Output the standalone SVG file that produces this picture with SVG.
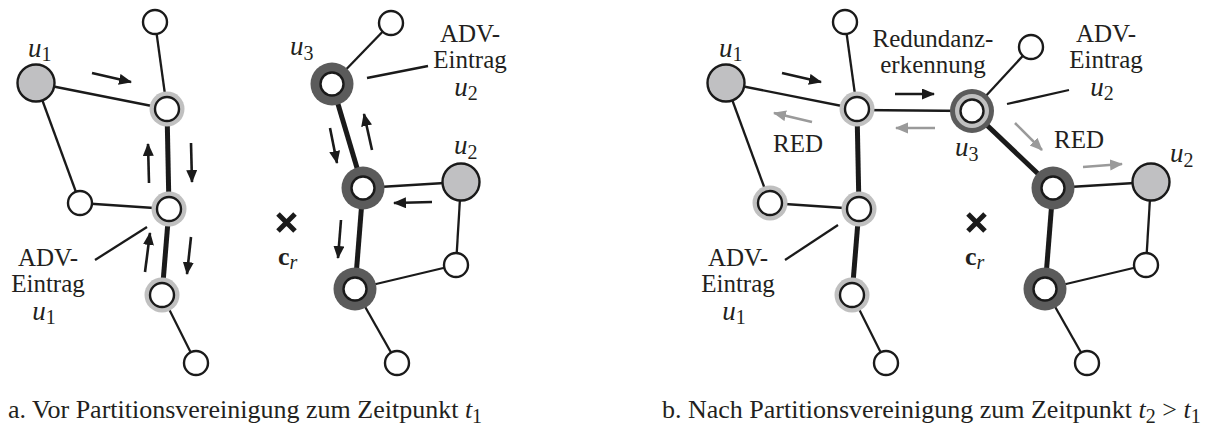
<svg xmlns="http://www.w3.org/2000/svg" width="1224" height="432" viewBox="0 0 1224 432">
<defs>
<marker id="ah" markerUnits="userSpaceOnUse" markerWidth="14" markerHeight="12" refX="12" refY="5.5" orient="auto"><path d="M0,0 L13,5.5 L0,11 z" fill="#1a1a1a"/></marker>
<marker id="ahg" markerUnits="userSpaceOnUse" markerWidth="14" markerHeight="12" refX="12" refY="5.5" orient="auto"><path d="M0,0 L13,5.5 L0,11 z" fill="#9a9a9a"/></marker>
</defs>
<style>
.thin{stroke:#1a1a1a;stroke-width:2.3;fill:none}
.thick{stroke:#1a1a1a;stroke-width:5;fill:none}
.lead{stroke:#1a1a1a;stroke-width:2.3;fill:none}
.arr{stroke:#1a1a1a;stroke-width:2.6;fill:none;marker-end:url(#ah)}
.arrg{stroke:#9a9a9a;stroke-width:2.6;fill:none;marker-end:url(#ahg)}
.n{fill:#fff;stroke:#1a1a1a;stroke-width:2.4}
.g{fill:#c0c0c2;stroke:#1a1a1a;stroke-width:2.4}
.lr{fill:#c0c0c0}
.dr{fill:#5b5b5b}
.x{stroke:#1a1a1a;stroke-width:5;fill:none}
text{font-family:"Liberation Serif","Times New Roman",serif;font-size:26px;fill:#231f20}
.lb{font-size:25px}
.u{font-style:italic;font-size:27px}
.s{font-size:20px;font-style:normal}
.si{font-size:20px;font-style:italic;font-weight:normal}
.c{text-anchor:middle}
</style>
<g id="connectors">
<!-- panel a -->
<line class="thin" x1="155" y1="22" x2="167" y2="109"/>
<line class="thin" x1="36" y1="83" x2="167" y2="109"/>
<line class="thin" x1="36" y1="83" x2="80" y2="203"/>
<line class="thin" x1="80" y1="203" x2="169" y2="209"/>
<line class="thick" x1="167" y1="109" x2="169" y2="209"/>
<line class="thick" x1="169" y1="209" x2="162" y2="295"/>
<line class="thin" x1="162" y1="295" x2="196" y2="363"/>
<line class="thin" x1="391" y1="23" x2="332" y2="84"/>
<line class="thick" x1="332" y1="84" x2="363" y2="188"/>
<line class="thin" x1="363" y1="188" x2="461" y2="182"/>
<line class="thin" x1="461" y1="182" x2="456" y2="265"/>
<line class="thick" x1="363" y1="188" x2="355" y2="289"/>
<line class="thin" x1="456" y1="265" x2="355" y2="289"/>
<line class="thin" x1="355" y1="289" x2="397" y2="363"/>
<!-- panel b -->
<line class="thin" x1="845" y1="22" x2="857" y2="109"/>
<line class="thin" x1="726" y1="83" x2="857" y2="109"/>
<line class="thin" x1="726" y1="83" x2="770" y2="203"/>
<line class="thin" x1="770" y1="203" x2="859" y2="209"/>
<line class="thick" x1="857" y1="109" x2="859" y2="209"/>
<line class="thick" x1="859" y1="209" x2="852" y2="295"/>
<line class="thin" x1="852" y1="295" x2="886" y2="363"/>
<line class="thin" x1="857" y1="110" x2="972" y2="111"/>
<line class="thin" x1="1031" y1="47" x2="972" y2="111"/>
<line class="thick" x1="972" y1="111" x2="1053" y2="188"/>
<line class="thin" x1="1053" y1="188" x2="1151" y2="182"/>
<line class="thin" x1="1151" y1="182" x2="1146" y2="265"/>
<line class="thick" x1="1053" y1="188" x2="1045" y2="289"/>
<line class="thin" x1="1146" y1="265" x2="1045" y2="289"/>
<line class="thin" x1="1045" y1="289" x2="1087" y2="363"/>
<!-- message arrows a -->
<line class="arr" x1="92" y1="73" x2="131" y2="82"/>
<line class="arr" x1="149" y1="183" x2="148" y2="144"/>
<line class="arr" x1="191" y1="143" x2="192" y2="182"/>
<line class="arr" x1="145" y1="272" x2="150" y2="233"/>
<line class="arr" x1="191" y1="237" x2="187" y2="274"/>
<line class="arr" x1="330" y1="128" x2="337" y2="163"/>
<line class="arr" x1="372" y1="150" x2="364" y2="114"/>
<line class="arr" x1="432" y1="202" x2="394" y2="203"/>
<line class="arr" x1="341" y1="220" x2="338" y2="258"/>
<!-- message arrows b -->
<line class="arr" x1="782" y1="73" x2="821" y2="82"/>
<line class="arrg" x1="812" y1="122" x2="774" y2="113"/>
<line class="arr" x1="895" y1="94" x2="934" y2="94"/>
<line class="arrg" x1="935" y1="128" x2="896" y2="128"/>
<line class="arrg" x1="1015" y1="123" x2="1042" y2="150"/>
<line class="arrg" x1="1083" y1="167" x2="1122" y2="164"/>
<!-- label leaders -->
<line class="lead" x1="95" y1="260" x2="147" y2="227"/>
<line class="lead" x1="367" y1="78" x2="428" y2="66"/>
<line class="lead" x1="785" y1="260" x2="838" y2="225"/>
<line class="lead" x1="1007" y1="104" x2="1069" y2="90"/>
</g>
<!-- panel a nodes -->
<g id="a_top1"><circle class="n" cx="155" cy="22" r="12"/></g>
<g id="a_u1"><circle class="g" cx="36" cy="83" r="18.5"/><text class="u" x="28" y="57">u<tspan class="s" dy="4">1</tspan></text></g>
<g id="a_A"><circle class="lr" cx="167" cy="109" r="17.5"/><circle class="n" cx="167" cy="109" r="12"/></g>
<g id="a_B"><circle class="n" cx="80" cy="203" r="12"/></g>
<g id="a_C"><circle class="lr" cx="169" cy="209" r="17.5"/><circle class="n" cx="169" cy="209" r="12"/></g>
<g id="a_D"><circle class="lr" cx="162" cy="295" r="17.5"/><circle class="n" cx="162" cy="295" r="12"/></g>
<g id="a_bottom1"><circle class="n" cx="196" cy="363" r="12"/></g>
<g id="a_top2"><circle class="n" cx="391" cy="23" r="12"/></g>
<g id="a_u3"><circle class="dr" cx="332" cy="84" r="21.5"/><circle class="n" cx="332" cy="84" r="11.5"/><text class="u" x="290" y="55">u<tspan class="s" dy="5">3</tspan></text></g>
<g id="a_E"><circle class="dr" cx="363" cy="188" r="21.5"/><circle class="n" cx="363" cy="188" r="11.5"/></g>
<g id="a_u2"><circle class="g" cx="461" cy="182" r="18.5"/><text class="u" x="454" y="154">u<tspan class="s" dy="5">2</tspan></text></g>
<g id="a_F"><circle class="n" cx="456" cy="265" r="12"/></g>
<g id="a_G"><circle class="dr" cx="355" cy="289" r="21.5"/><circle class="n" cx="355" cy="289" r="11.5"/></g>
<g id="a_bottom2"><circle class="n" cx="397" cy="363" r="12"/></g>
<!-- panel b nodes -->
<g id="b_top1"><circle class="n" cx="845" cy="22" r="12"/></g>
<g id="b_u1"><circle class="g" cx="726" cy="83" r="18.5"/><text class="u" x="719" y="57">u<tspan class="s" dy="4">1</tspan></text></g>
<g id="b_A"><circle class="lr" cx="857" cy="109" r="17.5"/><circle class="n" cx="857" cy="109" r="12"/></g>
<g id="b_B"><circle class="lr" cx="770" cy="203" r="17.5"/><circle class="n" cx="770" cy="203" r="12"/></g>
<g id="b_C"><circle class="lr" cx="859" cy="209" r="17.5"/><circle class="n" cx="859" cy="209" r="12"/></g>
<g id="b_D"><circle class="lr" cx="852" cy="295" r="17.5"/><circle class="n" cx="852" cy="295" r="12"/></g>
<g id="b_bottom1"><circle class="n" cx="886" cy="363" r="12"/></g>
<g id="b_top2"><circle class="n" cx="1031" cy="47" r="12"/></g>
<g id="b_u3"><circle class="dr" cx="972" cy="111" r="22"/><circle class="lr" cx="972" cy="111" r="17"/><circle class="n" cx="972" cy="111" r="11.5"/><text class="u" x="955" y="156">u<tspan class="s" dy="5">3</tspan></text></g>
<g id="b_E"><circle class="dr" cx="1053" cy="188" r="21.5"/><circle class="n" cx="1053" cy="188" r="11.5"/></g>
<g id="b_u2"><circle class="g" cx="1151" cy="182" r="18.5"/><text class="u" x="1170" y="162">u<tspan class="s" dy="5">2</tspan></text></g>
<g id="b_F"><circle class="n" cx="1146" cy="265" r="12"/></g>
<g id="b_G"><circle class="dr" cx="1045" cy="289" r="21.5"/><circle class="n" cx="1045" cy="289" r="11.5"/></g>
<g id="b_bottom2"><circle class="n" cx="1087" cy="363" r="12"/></g>
<!-- centroid marks -->
<g id="a_cr"><path class="x" d="M278,214 L295,231 M278,231 L295,214"/><text x="278" y="265" font-weight="bold">c<tspan class="si" dy="4">r</tspan></text></g>
<g id="b_cr"><path class="x" d="M968,214 L985,231 M968,231 L985,214"/><text x="965" y="265" font-weight="bold">c<tspan class="si" dy="4">r</tspan></text></g>
<!-- labels -->
<g id="labels">
<text class="c lb" x="48" y="266">ADV-</text>
<text class="c lb" x="48" y="292">Eintrag</text>
<text class="c u" x="44" y="320">u<tspan class="s" dy="4">1</tspan></text>
<text class="c lb" x="470" y="42">ADV-</text>
<text class="c lb" x="470" y="68">Eintrag</text>
<text class="c u" x="466" y="96">u<tspan class="s" dy="4">2</tspan></text>
<text class="c lb" x="738" y="266">ADV-</text>
<text class="c lb" x="738" y="292">Eintrag</text>
<text class="c u" x="734" y="320">u<tspan class="s" dy="4">1</tspan></text>
<text class="c lb" x="1106" y="42">ADV-</text>
<text class="c lb" x="1106" y="68">Eintrag</text>
<text class="c u" x="1102" y="96">u<tspan class="s" dy="4">2</tspan></text>
<text class="c lb" x="933" y="47">Redundanz-</text>
<text class="c lb" x="933" y="73">erkennung</text>
<text class="c lb" x="798" y="152">RED</text>
<text class="c lb" x="1079" y="148">RED</text>
<text x="8" y="418">a.  Vor Partitionsvereinigung zum Zeitpunkt <tspan font-style="italic">t</tspan><tspan class="s" dy="5">1</tspan></text>
<text x="662" y="418">b.  Nach Partitionsvereinigung zum Zeitpunkt <tspan font-style="italic">t</tspan><tspan class="s" dy="5">2</tspan><tspan dy="-5"> &gt; </tspan><tspan font-style="italic">t</tspan><tspan class="s" dy="5">1</tspan></text>
</g>
</svg>
